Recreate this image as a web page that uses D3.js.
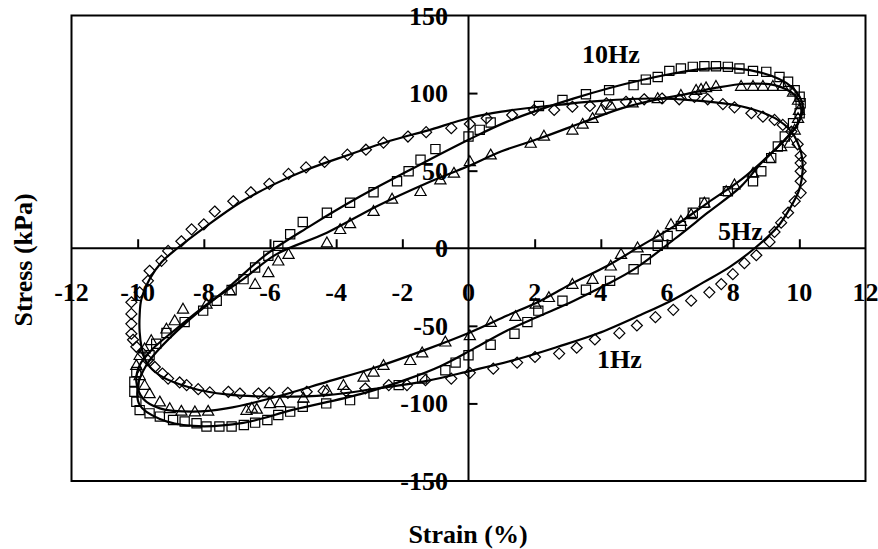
<!DOCTYPE html>
<html>
<head>
<meta charset="utf-8">
<script src="https://cdn.jsdelivr.net/npm/d3@7/dist/d3.min.js"></script>
<style>
  html, body { margin: 0; padding: 0; background: #fff; }
  svg { display: block; }
  text { font-family: "Liberation Serif", "Times New Roman", serif; font-weight: bold; fill: #000; }
</style>
</head>
<body>
<svg id="chart" width="878" height="549"></svg>
<script>
// ---------- data (strain %, stress kPa) ----------
const xTicks = [-12, -10, -8, -6, -4, -2, 0, 2, 4, 6, 8, 10, 12];
const yTicks = [-150, -100, -50, 0, 50, 100, 150];
const seriesNames = ["1Hz", "5Hz", "10Hz"];

// measured points, 1 Hz (diamonds)
const points1Hz = [
  [-10.19,-55.1],[-10.19,-48.7],[-10.19,-42.3],[-10.19,-34.8],[-9.94,-28.4],[-9.69,-21.0],[-9.64,-14.5],
  [-9.28,-8.1],[-9.08,-1.7],[-8.68,4.5],[-8.37,12.2],[-8.0,15.4],[-7.67,23.7],[-7.11,30.3],[-6.58,36.1],
  [-6.02,41.5],[-5.44,47.9],[-4.91,52.1],[-4.35,55.6],[-3.66,60.3],[-3.10,63.5],[-2.57,68.1],[-1.83,72.0],
  [-1.28,74.8],[-0.52,77.4],[0.04,80.1],[0.55,83.8],[1.32,85.9],[1.98,89.1],[2.59,89.1],[3.14,91.2],
  [3.67,91.7],[4.17,93.4],[4.76,94.4],[5.31,96.0],[5.85,96.5],[6.37,96.0],[6.83,97.6],[7.23,96.0],
  [7.69,92.9],[8.04,90.8],[8.55,87.0],[8.90,84.8],[9.25,82.7],[9.50,79.5],[9.76,75.2],[9.95,67.0],
  [10.04,59.6],[10.04,54.9],[10.04,49.6],[10.04,43.2],[10.04,35.7],[9.86,30.3],[9.66,22.9],[9.45,16.5],
  [9.25,10.5],[9.10,4.1],[8.70,-4.5],[8.34,-9.6],[7.99,-16.7],[7.64,-23.1],[7.28,-28.4],[6.73,-33.8],
  [6.19,-39.7],[5.65,-44.4],[5.09,-49.8],[4.56,-54.7],[3.82,-58.8],[3.27,-64.1],[2.74,-67.9],[2.01,-70.1],
  [1.47,-73.7],[0.75,-77.6],[0.04,-80.3],[-0.52,-84.0],[-1.30,-85.0],[-1.86,-88.2],[-2.41,-88.2],
  [-3.12,-90.4],[-3.70,-92.1],[-4.38,-92.1],[-4.89,-92.5],[-5.46,-93.2],[-6.02,-93.2],[-6.35,-93.6],
  [-6.91,-93.6],[-7.26,-92.5],[-7.82,-92.9],[-8.17,-90.8],[-8.52,-88.2],[-8.73,-86.5],[-9.08,-84.0],
  [-9.25,-80.8],[-9.48,-76.5],[-9.69,-72.2],[-9.84,-67.9],[-10.04,-63.5],[-10.14,-59.0]
];
// measured points, 5 Hz (triangles)
const points5Hz = [
  [-10.04,-75.4],[-9.94,-69.0],[-9.79,-64.7],[-9.59,-59.4],[-9.13,-51.9],[-8.88,-46.6],[-8.63,-39.1],
  [-7.92,-35.9],[-7.21,-27.4],[-6.45,-23.1],[-6.05,-15.6],[-5.75,-8.1],[-5.44,-3.8],[-4.28,3.6],
  [-3.88,12.2],[-3.58,16.0],[-2.87,23.9],[-2.31,31.8],[-1.45,36.7],[-0.85,44.2],[-0.44,48.5],[0.04,56.0],
  [0.67,60.3],[1.88,67.8],[2.28,72.4],[3.14,76.3],[3.45,80.1],[3.75,83.8],[4.0,89.1],[4.30,92.3],
  [4.96,93.8],[5.72,96.6],[6.42,98.7],[6.88,101.9],[7.03,102.6],[7.18,103.6],[7.48,104.5],[8.24,104.5],
  [8.60,104.5],[8.90,104.5],[9.20,104.5],[9.50,104.5],[9.81,100.8],[9.96,95.5],[9.99,89.0],[9.96,83.8],
  [9.86,76.3],[9.71,67.8],[9.45,65.6],[9.10,58.1],[8.60,48.5],[8.04,41.0],[7.79,36.7],[7.13,29.3],
  [6.73,21.8],[6.42,17.5],[6.12,15.4],[5.72,7.9],[5.11,0.4],[4.61,-3.8],[4.30,-11.3],[3.75,-19.9],
  [3.14,-23.1],[2.43,-31.6],[2.03,-35.9],[1.42,-43.8],[0.67,-47.6],[0.04,-56.2],[-0.70,-60.3],
  [-1.40,-67.3],[-1.76,-72.2],[-2.57,-75.4],[-2.87,-79.7],[-3.17,-82.9],[-3.78,-88.2],[-4.28,-91.5],
  [-4.99,-96.4],[-5.70,-99.4],[-6.0,-100.0],[-6.40,-103.6],[-6.55,-103.0],[-6.71,-104.3],[-7.87,-104.9],
  [-8.27,-105.3],[-8.68,-104.9],[-9.03,-103.2],[-9.33,-98.9],[-9.64,-93.6],[-9.79,-88.2],[-9.94,-81.9]
];
// measured points, 10 Hz (squares)
const points10Hz = [
  [-9.64,-69.0],[-9.44,-61.5],[-9.13,-54.6],[-8.58,-47.6],[-8.02,-40.2],[-7.61,-33.8],[-7.16,-26.9],
  [-6.80,-19.9],[-6.45,-12.4],[-6.05,-4.9],[-5.75,1.5],[-5.39,9.0],[-5.01,16.9],[-4.28,22.9],[-3.58,29.3],
  [-2.87,36.1],[-2.16,43.2],[-1.81,49.6],[-1.45,57.1],[-1.0,63.9],[0.0,72.0],[0.34,76.3],[0.67,81.0],
  [2.13,91.7],[2.84,95.5],[3.55,99.2],[4.25,101.9],[4.99,105.1],[5.36,108.7],[5.72,110.4],[6.07,114.3],
  [6.42,115.8],[6.78,116.9],[7.13,117.3],[7.48,117.3],[7.84,116.9],[8.19,115.8],[8.60,114.3],[9.0,113.7],
  [9.40,110.4],[9.66,107.3],[9.86,101.9],[10.01,97.6],[10.04,93.4],[10.01,87.0],[9.81,80.6],[9.56,72.0],
  [9.35,65.6],[9.15,58.1],[8.85,49.6],[8.60,43.2],[7.84,36.7],[7.13,29.3],[6.78,22.9],[6.42,14.3],
  [6.02,7.9],[5.72,1.5],[5.36,-7.1],[4.99,-13.5],[4.28,-21.0],[3.55,-26.7],[2.84,-33.8],[2.11,-40.2],
  [1.78,-47.6],[1.39,-55.1],[0.67,-62.2],[0.0,-69.0],[-0.39,-73.7],[-0.70,-78.6],[-1.40,-84.0],
  [-2.11,-88.2],[-2.87,-93.6],[-3.58,-97.9],[-4.30,-100.0],[-5.01,-102.1],[-5.39,-105.3],[-5.75,-107.5],
  [-6.08,-110.7],[-6.45,-112.4],[-6.79,-113.9],[-7.16,-114.9],[-7.53,-114.9],[-7.92,-114.9],[-8.22,-112.8],
  [-8.58,-111.7],[-8.93,-110.7],[-9.33,-108.5],[-9.64,-106.4],[-9.94,-104.3],[-10.04,-98.9],[-10.1,-92.5],
  [-10.1,-86.0],[-10.04,-79.7]
];

// fitted loops (solid lines)
const fit1Hz = [
  [-9.94,-54],[-9.94,-43],[-9.89,-33],[-9.64,-20],[-9.28,-9],[-8.8,0],[-7.92,14.3],[-6.91,29.3],[-5.9,41],
  [-4.89,50.6],[-3.68,59.8],[-2.26,69.9],[-1.25,75.8],[0,83.8],[1,88],[2.5,92],[4,95],[5.5,96.5],[7,95],
  [8.24,91.5],[9.25,84],[9.76,75],[10.05,62],[10.1,50],[10.0,38],[9.75,27],[9.35,14],[8.65,0],[7.9,-12],
  [7.1,-22],[6.2,-33],[5.2,-43],[3.9,-55],[2.7,-63.5],[1.47,-71.5],[0.06,-79],[-1.25,-85.5],[-2.77,-90.4],
  [-4.28,-94.7],[-5.8,-95.7],[-7.31,-94.2],[-8.32,-90.4],[-9.33,-81.9],[-9.74,-73.3],[-9.88,-64]
];
const fit5Hz = [
  [-10.04,-86],[-9.94,-75.4],[-9.54,-64.7],[-8.83,-51.9],[-7.82,-34.8],[-6.81,-19.9],[-5.8,-3.8],[-4.28,10],
  [-2.77,27.1],[-1.25,42.1],[0,53],[1,62.5],[2.18,71],[3.5,81.5],[4.6,90],[5.5,95],[6.5,99],[7.5,103.5],
  [8.4,106],[9.25,105.1],[9.86,98.7],[10.06,89.1],[9.91,78.4],[9.66,72],[9.05,59.2],[8.24,44.2],
  [7.23,29.3],[6.22,14.3],[5.21,1.5],[4.20,-11.3],[3.19,-22],[2.18,-33.8],[1.17,-43.4],[0.06,-54.1],
  [-1.25,-65],[-2.77,-76.5],[-4.28,-86.1],[-5.8,-95.7],[-7.31,-103.2],[-8.32,-105.3],[-9.33,-103.2],
  [-9.84,-96.8]
];
const fit10Hz = [
  [-9.99,-88],[-9.74,-75.4],[-9.44,-67],[-8.52,-47.6],[-7.31,-26.3],[-6.1,-3.8],[-4.79,14.3],[-3.27,33.5],
  [-1.76,50.6],[0,69.9],[1.17,81.6],[3.19,96.6],[5.21,108.3],[7.23,115.8],[8.74,113.7],[9.76,104],
  [10.11,91.2],[9.96,80.6],[9.56,69.9],[8.85,54.9],[8.24,39.9],[7.23,22.9],[6.22,5.8],[5.01,-13.5],
  [4.20,-23.1],[3.19,-33.8],[2.18,-43.4],[1.17,-53],[0.16,-64.7],[-0.85,-76],[-1.8,-84],[-3.27,-94],
  [-5.29,-104],[-6.81,-112.5],[-8.32,-114.5],[-9.33,-110],[-9.94,-101]
];

// ---------- drawing ----------
const svg = d3.select("#chart");
const x = d3.scaleLinear().domain([-12, 12]).range([71.5, 865.5]);
const y = d3.scaleLinear().domain([-150, 150]).range([481, 15.5]);

// plot border
svg.append("rect")
  .attr("x", x(-12)).attr("y", y(150))
  .attr("width", x(12) - x(-12)).attr("height", y(-150) - y(150))
  .attr("fill", "none").attr("stroke", "#000").attr("stroke-width", 2);

// axes through origin
const xAxis = d3.axisTop(x).tickValues(xTicks.filter(d => d !== 0 && Math.abs(d) !== 12))
  .tickSize(9).tickFormat("");
const gx = svg.append("g").attr("transform", `translate(0,${y(0)})`).call(xAxis);
const yAxis = d3.axisRight(y).tickValues(yTicks.filter(d => d !== 0 && Math.abs(d) !== 150))
  .tickSize(9).tickFormat("");
const gy = svg.append("g").attr("transform", `translate(${x(0)},0)`).call(yAxis);
[gx, gy].forEach(g => {
  g.select(".domain").attr("stroke", "#000").attr("stroke-width", 2);
  g.selectAll(".tick line").attr("stroke", "#000").attr("stroke-width", 2);
});
gx.select(".domain").attr("d", `M${x(-12)},0H${x(12)}`);
gy.select(".domain").attr("d", `M0,${y(-150)}V${y(150)}`);

// fitted loops
const line = d3.line().x(d => x(d[0])).y(d => y(d[1])).curve(d3.curveCatmullRomClosed.alpha(0.5));
[fit1Hz, fit5Hz, fit10Hz].forEach(f => {
  svg.append("path").attr("d", line(f))
    .attr("fill", "none").attr("stroke", "#000").attr("stroke-width", 2.2);
});

// markers
const diamond = "M0,-5.5L5.5,0L0,5.5L-5.5,0Z";
const square = "M-4.6,-4.6H4.6V4.6H-4.6Z";
const triangle = "M0,-5.6L5.6,4.2H-5.6Z";
function drawMarkers(pts, shape) {
  svg.append("g").selectAll("path").data(pts).join("path")
    .attr("d", shape)
    .attr("transform", d => `translate(${x(d[0])},${y(d[1])})`)
    .attr("fill", "none").attr("stroke", "#000").attr("stroke-width", 1.2);
}
drawMarkers(points1Hz, diamond);
drawMarkers(points5Hz, triangle);
drawMarkers(points10Hz, square);

// tick labels
svg.append("g").selectAll("text").data(xTicks).join("text")
  .attr("x", d => x(d)).attr("y", 301)
  .attr("text-anchor", "middle").attr("font-size", 26)
  .text(d => d);
svg.append("g").selectAll("text").data(yTicks).join("text")
  .attr("x", 448).attr("y", d => y(d) + 9)
  .attr("text-anchor", "end").attr("font-size", 26)
  .text(d => d);

// axis titles
svg.append("text").attr("x", 468).attr("y", 543)
  .attr("text-anchor", "middle").attr("font-size", 26).text("Strain (%)");
svg.append("text").attr("transform", "translate(32,260) rotate(-90)")
  .attr("text-anchor", "middle").attr("font-size", 26).text("Stress (kPa)");

// series labels
const labelPos = [[597, 368], [718, 240], [582, 63]];
seriesNames.forEach((n, i) => {
  svg.append("text").attr("x", labelPos[i][0]).attr("y", labelPos[i][1])
    .attr("font-size", 26).text(n);
});
</script>
</body>
</html>
